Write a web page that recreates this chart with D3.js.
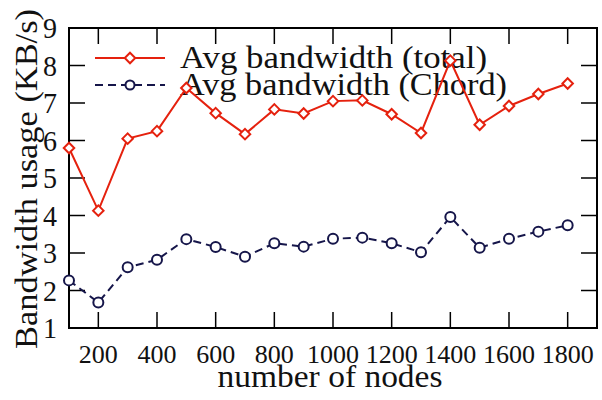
<!DOCTYPE html>
<html>
<head>
<meta charset="utf-8">
<script src="https://cdn.jsdelivr.net/npm/d3@7"></script>
<style>
    body { margin: 0; background: #fff; }
    svg text { font-family: "Liberation Serif", "DejaVu Serif", "Noto Serif", "Tinos", "Times New Roman", Times, serif; }
</style>
</head>
<body>
<svg class="chart"></svg>
<script>
const nodes = [100, 200, 300, 400, 500, 600, 700, 800, 900, 1000, 1100, 1200, 1300, 1400, 1500, 1600, 1700, 1800]
const bwTotal = [5.8, 4.13, 6.05, 6.25, 7.4, 6.73, 6.17, 6.83, 6.72, 7.05, 7.07, 6.7, 6.2, 8.13, 6.42, 6.92, 7.24, 7.52]
const bwChord = [2.27, 1.68, 2.62, 2.82, 3.37, 3.16, 2.9, 3.26, 3.17, 3.38, 3.41, 3.26, 3.02, 3.96, 3.14, 3.38, 3.57, 3.74]
const xTicks = [200, 400, 600, 800, 1000, 1200, 1400, 1600, 1800]
const yTicks = [1, 2, 3, 4, 5, 6, 7, 8, 9]
const legendLabels = ['Avg bandwidth (total)', 'Avg bandwidth (Chord)']

const width = 602
const height = 400
const plotLeft = 69, plotRight = 597, plotTop = 28, plotBottom = 328

const red = '#e5210e'
const navy = '#16164a'

const svg = d3.select('.chart')
    .attr('width', width)
    .attr('height', height)

const x = d3.scaleLinear().domain([100, 1900]).range([plotLeft, plotRight])
const y = d3.scaleLinear().domain([1, 9]).range([plotBottom, plotTop])

// ticks, pointing inwards on all four sides
const tickLen = 16

svg.append('g').selectAll('line')
        .data(xTicks)
    .enter().append('line')
        .attr('stroke', 'black').attr('stroke-width', 1.5)
        .attr('x1', d => x(d)).attr('x2', d => x(d))
        .attr('y1', plotBottom).attr('y2', plotBottom - tickLen)

svg.append('g').selectAll('line')
        .data(xTicks)
    .enter().append('line')
        .attr('stroke', 'black').attr('stroke-width', 1.5)
        .attr('x1', d => x(d)).attr('x2', d => x(d))
        .attr('y1', plotTop).attr('y2', plotTop + tickLen)

const innerY = yTicks.slice(1, -1)

svg.append('g').selectAll('line')
        .data(innerY)
    .enter().append('line')
        .attr('stroke', 'black').attr('stroke-width', 1.5)
        .attr('x1', plotLeft).attr('x2', plotLeft + tickLen)
        .attr('y1', d => y(d)).attr('y2', d => y(d))

svg.append('g').selectAll('line')
        .data(innerY)
    .enter().append('line')
        .attr('stroke', 'black').attr('stroke-width', 1.5)
        .attr('x1', plotRight).attr('x2', plotRight - tickLen)
        .attr('y1', d => y(d)).attr('y2', d => y(d))

// frame
svg.append('rect')
    .attr('x', plotLeft).attr('y', plotTop)
    .attr('width', plotRight - plotLeft).attr('height', plotBottom - plotTop)
    .attr('fill', 'none')
    .attr('stroke', 'black')
    .attr('stroke-width', 2)

// tick labels, squeezed to the widths seen in the reference
svg.append('g').selectAll('text')
        .data(xTicks)
    .enter().append('text')
        .attr('font-size', 26)
        .attr('fill', '#111')
        .attr('text-anchor', 'middle')
        .attr('x', d => x(d))
        .attr('y', 363)
        .attr('textLength', d => String(d).length * 13)
        .attr('lengthAdjust', 'spacingAndGlyphs')
        .text(d => d)

svg.append('g').selectAll('text')
        .data(yTicks)
    .enter().append('text')
        .attr('font-size', 29)
        .attr('fill', '#111')
        .attr('text-anchor', 'end')
        .attr('x', 57)
        .attr('y', d => y(d))
        .attr('dy', '0.35em')
        .attr('textLength', 14)
        .attr('lengthAdjust', 'spacingAndGlyphs')
        .text(d => d)

// axis titles
svg.append('text')
    .attr('font-size', 32)
    .attr('fill', '#111')
    .attr('text-anchor', 'middle')
    .attr('x', 330)
    .attr('y', 387)
    .attr('textLength', 225)
    .attr('lengthAdjust', 'spacingAndGlyphs')
    .text('number of nodes')

svg.append('text')
    .attr('font-size', 32)
    .attr('fill', '#111')
    .attr('text-anchor', 'middle')
    .attr('transform', 'translate(37,179) rotate(-90)')
    .attr('textLength', 340)
    .attr('lengthAdjust', 'spacingAndGlyphs')
    .text('Bandwidth usage (KB/s)')

// legend
const legend = svg.append('g')
const legendRows = [
    { label: legendLabels[0], color: red, dash: null, ly: 58, len: 307 },
    { label: legendLabels[1], color: navy, dash: '8,5', ly: 85, len: 327 }
]

legendRows.forEach(r => {
    legend.append('line')
        .attr('x1', 95).attr('x2', 165)
        .attr('y1', r.ly).attr('y2', r.ly)
        .attr('stroke', r.color)
        .attr('stroke-width', 2)
        .attr('stroke-dasharray', r.dash)
    legend.append('text')
        .attr('font-size', 32)
        .attr('fill', '#111')
        .attr('x', 180)
        .attr('y', r.ly)
        .attr('dy', '0.3em')
        .attr('textLength', r.len)
        .attr('lengthAdjust', 'spacingAndGlyphs')
        .text(r.label)
})

const diamond = d3.symbol().type(d3.symbolDiamond2).size(70)

legend.append('path')
    .attr('d', diamond)
    .attr('transform', `translate(130,${legendRows[0].ly})`)
    .attr('fill', 'white').attr('stroke', red).attr('stroke-width', 2)

legend.append('circle')
    .attr('cx', 130).attr('cy', legendRows[1].ly).attr('r', 4.5)
    .attr('fill', 'white').attr('stroke', navy).attr('stroke-width', 2)

// series
const line = d3.line()
    .x(d => x(d[0]))
    .y(d => y(d[1]))

const totalPts = d3.zip(nodes, bwTotal)
const chordPts = d3.zip(nodes, bwChord)

svg.append('path')
    .datum(chordPts)
    .attr('d', line)
    .attr('fill', 'none')
    .attr('stroke', navy)
    .attr('stroke-width', 2)
    .attr('stroke-dasharray', '8,5')

svg.append('g').selectAll('circle')
        .data(chordPts)
    .enter().append('circle')
        .attr('cx', d => x(d[0]))
        .attr('cy', d => y(d[1]))
        .attr('r', 5)
        .attr('fill', 'white')
        .attr('stroke', navy)
        .attr('stroke-width', 2)

svg.append('path')
    .datum(totalPts)
    .attr('d', line)
    .attr('fill', 'none')
    .attr('stroke', red)
    .attr('stroke-width', 2)

svg.append('g').selectAll('path')
        .data(totalPts)
    .enter().append('path')
        .attr('d', diamond)
        .attr('transform', d => `translate(${x(d[0])},${y(d[1])})`)
        .attr('fill', 'white')
        .attr('stroke', red)
        .attr('stroke-width', 2)
</script>
</body>
</html>
